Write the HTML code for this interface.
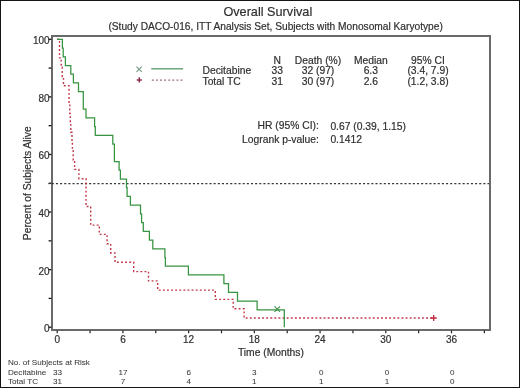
<!DOCTYPE html>
<html><head><meta charset="utf-8"><style>
html,body{margin:0;padding:0;background:#fff;}
body{width:520px;height:388px;overflow:hidden;}
svg{display:block;will-change:transform;}
text{font-family:"Liberation Sans", sans-serif;fill:#303030;stroke:#303030;stroke-width:0.2px;}
text[font-size="8.1"]{stroke-width:0.05px;fill:#383838;stroke:#383838;}
</style></head><body>
<svg width="520" height="388" viewBox="0 0 520 388">
<rect x="0.5" y="0.5" width="519" height="387" fill="none" stroke="#141414" stroke-width="1"/>
<text x="267.8" y="16.4" font-size="12.7" text-anchor="middle">Overall Survival</text>
<text x="275.6" y="29.8" font-size="10.2" text-anchor="middle">(Study DACO-016, ITT Analysis Set, Subjects with Monosomal Karyotype)</text>
<rect x="52" y="36" width="438" height="294" fill="none" stroke="#6a6a6a" stroke-width="2"/>
<line x1="48.6" x2="51.4" y1="327.20" y2="327.20" stroke="#1a1a1a" stroke-width="1.3"/>
<text x="49.6" y="332.10" font-size="10" text-anchor="end">0</text>
<line x1="48.6" x2="51.4" y1="298.41" y2="298.41" stroke="#1a1a1a" stroke-width="1.3"/>
<line x1="48.6" x2="51.4" y1="269.62" y2="269.62" stroke="#1a1a1a" stroke-width="1.3"/>
<text x="49.6" y="274.52" font-size="10" text-anchor="end">20</text>
<line x1="48.6" x2="51.4" y1="240.83" y2="240.83" stroke="#1a1a1a" stroke-width="1.3"/>
<line x1="48.6" x2="51.4" y1="212.04" y2="212.04" stroke="#1a1a1a" stroke-width="1.3"/>
<text x="49.6" y="216.94" font-size="10" text-anchor="end">40</text>
<line x1="48.6" x2="51.4" y1="183.25" y2="183.25" stroke="#1a1a1a" stroke-width="1.3"/>
<line x1="48.6" x2="51.4" y1="154.46" y2="154.46" stroke="#1a1a1a" stroke-width="1.3"/>
<text x="49.6" y="159.36" font-size="10" text-anchor="end">60</text>
<line x1="48.6" x2="51.4" y1="125.67" y2="125.67" stroke="#1a1a1a" stroke-width="1.3"/>
<line x1="48.6" x2="51.4" y1="96.88" y2="96.88" stroke="#1a1a1a" stroke-width="1.3"/>
<text x="49.6" y="101.78" font-size="10" text-anchor="end">80</text>
<line x1="48.6" x2="51.4" y1="68.09" y2="68.09" stroke="#1a1a1a" stroke-width="1.3"/>
<line x1="48.6" x2="51.4" y1="39.30" y2="39.30" stroke="#1a1a1a" stroke-width="1.3"/>
<text x="49.6" y="44.20" font-size="10" text-anchor="end">100</text>
<line x1="57.20" x2="57.20" y1="330.5" y2="333.3" stroke="#222" stroke-width="1.2"/>
<text x="57.20" y="342.8" font-size="10" text-anchor="middle">0</text>
<line x1="90.06" x2="90.06" y1="330.5" y2="333.3" stroke="#222" stroke-width="1.2"/>
<line x1="122.92" x2="122.92" y1="330.5" y2="333.3" stroke="#222" stroke-width="1.2"/>
<text x="122.92" y="342.8" font-size="10" text-anchor="middle">6</text>
<line x1="155.78" x2="155.78" y1="330.5" y2="333.3" stroke="#222" stroke-width="1.2"/>
<line x1="188.64" x2="188.64" y1="330.5" y2="333.3" stroke="#222" stroke-width="1.2"/>
<text x="188.64" y="342.8" font-size="10" text-anchor="middle">12</text>
<line x1="221.50" x2="221.50" y1="330.5" y2="333.3" stroke="#222" stroke-width="1.2"/>
<line x1="254.35" x2="254.35" y1="330.5" y2="333.3" stroke="#222" stroke-width="1.2"/>
<text x="254.35" y="342.8" font-size="10" text-anchor="middle">18</text>
<line x1="287.21" x2="287.21" y1="330.5" y2="333.3" stroke="#222" stroke-width="1.2"/>
<line x1="320.07" x2="320.07" y1="330.5" y2="333.3" stroke="#222" stroke-width="1.2"/>
<text x="320.07" y="342.8" font-size="10" text-anchor="middle">24</text>
<line x1="352.93" x2="352.93" y1="330.5" y2="333.3" stroke="#222" stroke-width="1.2"/>
<line x1="385.79" x2="385.79" y1="330.5" y2="333.3" stroke="#222" stroke-width="1.2"/>
<text x="385.79" y="342.8" font-size="10" text-anchor="middle">30</text>
<line x1="418.65" x2="418.65" y1="330.5" y2="333.3" stroke="#222" stroke-width="1.2"/>
<line x1="451.51" x2="451.51" y1="330.5" y2="333.3" stroke="#222" stroke-width="1.2"/>
<text x="451.51" y="342.8" font-size="10" text-anchor="middle">36</text>
<line x1="484.37" x2="484.37" y1="330.5" y2="333.3" stroke="#222" stroke-width="1.2"/>
<text x="270.9" y="355.8" font-size="10.3" text-anchor="middle">Time (Months)</text>
<text transform="translate(30.8,183.2) rotate(-90)" font-size="10.3" text-anchor="middle">Percent of Subjects Alive</text>
<line x1="48.6" x2="489" y1="183.5" y2="183.5" stroke="#383838" stroke-width="1.25" stroke-dasharray="2.1 2.05" stroke-dashoffset="1"/>
<path d="M57,39.3 H59.5 V57.9 H61.2 V67.2 H62.2 V76.5 H63.5 V85.8 H69 V104.3 H69.8 V113.6 H70.3 V122.9 H70.8 V132.2 H72 V141.5 H72.4 V150.8 H73.2 V160.1 H74.6 V169.4 H78.9 V178.7 H86 V206.5 H90.7 V225.1 H99.3 V234.4 H107.1 V243.7 H110.7 V253 H115 V262.3 H133.7 V271.6 H148.5 V280.9 H157.7 V290.1 H215.3 V299.4 H233.2 V308.7 H244.1 V318 H433.7" fill="none" stroke="#c03848" stroke-width="1.4" stroke-dasharray="1.9 2.2"/>
<path d="M57,39.3 H62.4 V48 H63.2 V56.8 H65.4 V65.5 H70.8 V74.2 H73.4 V82.9 H78.5 V91.7 H83.3 V109.1 H86 V117.9 H94.6 V126.6 H95.3 V135.3 H112.8 V144.1 H114.4 V161.5 H119.1 V170.2 H120.4 V179 H126.5 V187.7 H127.1 V196.4 H130.4 V205.1 H140.5 V213.9 H141.6 V222.6 H143.3 V231.3 H149.4 V240 H152.8 V248.8 H164.9 V257.5 H165.4 V266.2 H188.4 V274.9 H223.9 V283.7 H228.5 V292.4 H237.5 V301.1 H257.1 V309.8 H284.3 V327.2" fill="none" stroke="#36933f" stroke-width="1.25"/>
<path d="M274.5,306.3 L280,311.8 M280,306.3 L274.5,311.8" stroke="#3a9048" stroke-width="1.1"/>
<path d="M433.7,315 V321 M430.7,318 H436.7" stroke="#c02838" stroke-width="1.3"/>
<path d="M136.5,66.6 L141.8,71.9 M141.8,66.6 L136.5,71.9" stroke="#789c86" stroke-width="1.15"/>
<line x1="151.3" x2="183.1" y1="68.8" y2="68.8" stroke="#6fa67e" stroke-width="1.6"/>
<path d="M139.3,77.2 V82.6 M136.7,79.9 H141.9" stroke="#8c3048" stroke-width="1.5"/>
<line x1="151.8" x2="183.5" y1="80.1" y2="80.1" stroke="#9c7080" stroke-width="1.4" stroke-dasharray="2 2.1"/>
<text x="202.5" y="74" font-size="10.3">Decitabine</text>
<text x="202.5" y="84.6" font-size="10.3">Total TC</text>
<text x="277.2" y="63.50" font-size="10.3" text-anchor="middle">N</text>
<text x="277.2" y="74.05" font-size="10.3" text-anchor="middle">33</text>
<text x="277.2" y="84.60" font-size="10.3" text-anchor="middle">31</text>
<text x="318" y="63.50" font-size="10.3" text-anchor="middle">Death (%)</text>
<text x="318" y="74.05" font-size="10.3" text-anchor="middle">32 (97)</text>
<text x="318" y="84.60" font-size="10.3" text-anchor="middle">30 (97)</text>
<text x="370.8" y="63.50" font-size="10.3" text-anchor="middle">Median</text>
<text x="370.8" y="74.05" font-size="10.3" text-anchor="middle">6.3</text>
<text x="370.8" y="84.60" font-size="10.3" text-anchor="middle">2.6</text>
<text x="428" y="63.50" font-size="10.3" text-anchor="middle">95% CI</text>
<text x="428" y="74.05" font-size="10.3" text-anchor="middle">(3.4, 7.9)</text>
<text x="428" y="84.60" font-size="10.3" text-anchor="middle">(1.2, 3.8)</text>
<text x="318.8" y="128.8" font-size="10.3" text-anchor="end">HR (95% CI):</text>
<text x="318.8" y="143" font-size="10.3" text-anchor="end">Logrank p-value:</text>
<text x="330.4" y="130.3" font-size="10.3">0.67 (0.39, 1.15)</text>
<text x="330.4" y="143.4" font-size="10.3">0.1412</text>
<text x="8" y="365" font-size="8.1">No. of Subjects at Risk</text>
<text x="8" y="374.7" font-size="8.1">Decitabine</text>
<text x="8" y="384" font-size="8.1">Total TC</text>
<text x="57.40" y="374.7" font-size="8.1" text-anchor="middle">33</text>
<text x="57.40" y="384" font-size="8.1" text-anchor="middle">31</text>
<text x="123.12" y="374.7" font-size="8.1" text-anchor="middle">17</text>
<text x="123.12" y="384" font-size="8.1" text-anchor="middle">7</text>
<text x="188.64" y="374.7" font-size="8.1" text-anchor="middle">6</text>
<text x="188.64" y="384" font-size="8.1" text-anchor="middle">4</text>
<text x="254.35" y="374.7" font-size="8.1" text-anchor="middle">3</text>
<text x="254.35" y="384" font-size="8.1" text-anchor="middle">1</text>
<text x="321.37" y="374.7" font-size="8.1" text-anchor="middle">0</text>
<text x="321.37" y="384" font-size="8.1" text-anchor="middle">1</text>
<text x="386.99" y="374.7" font-size="8.1" text-anchor="middle">0</text>
<text x="386.99" y="384" font-size="8.1" text-anchor="middle">1</text>
<text x="452.31" y="374.7" font-size="8.1" text-anchor="middle">0</text>
<text x="452.31" y="384" font-size="8.1" text-anchor="middle">0</text>
</svg>
</body></html>
